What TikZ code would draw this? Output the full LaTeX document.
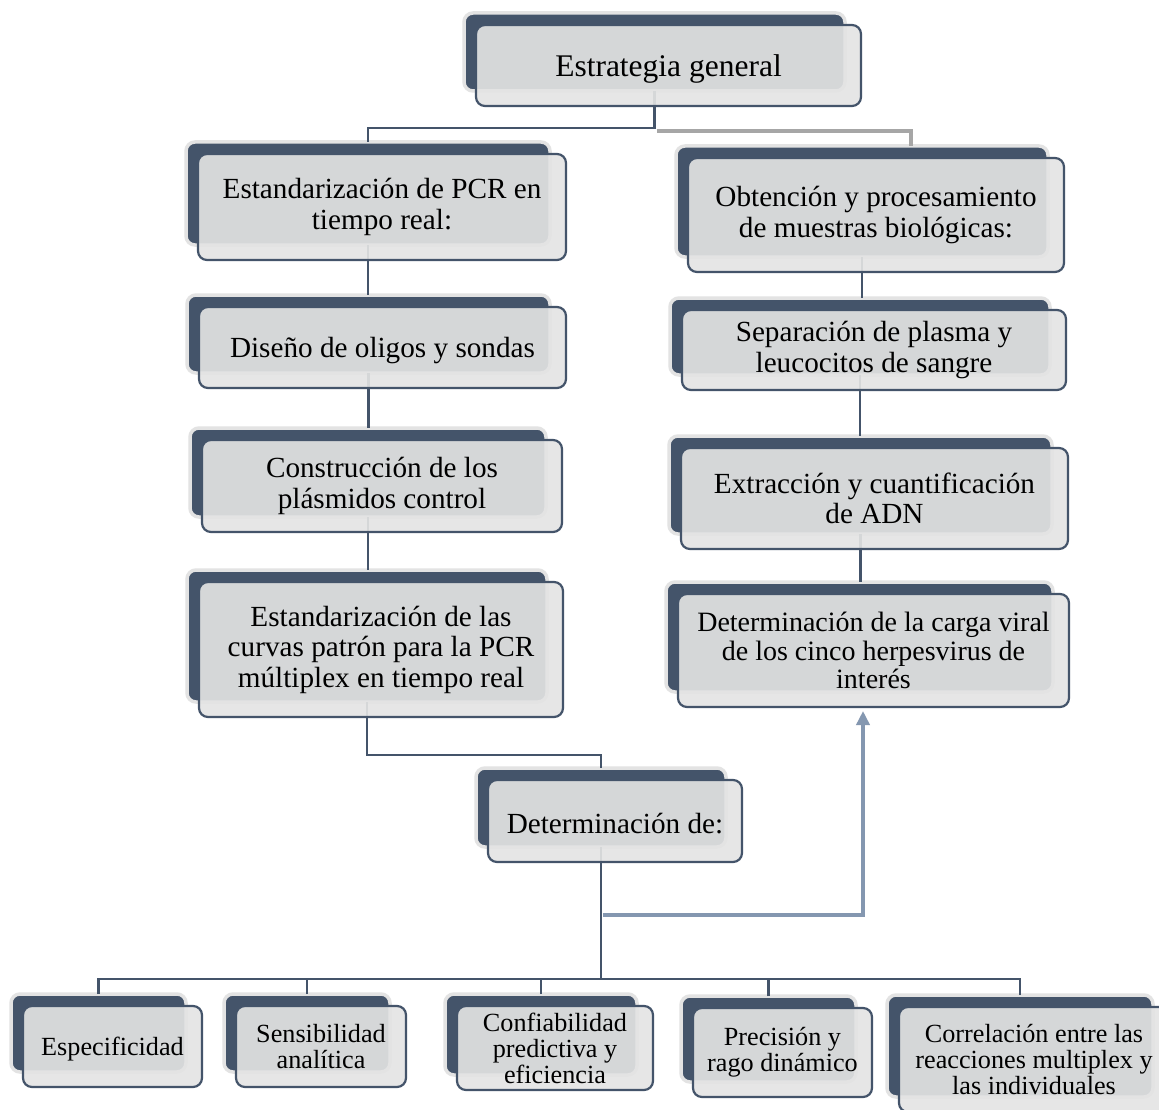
\documentclass[tikz,border=0pt]{standalone}
\usepackage{fontspec}
\setmainfont{Liberation Serif}
\usetikzlibrary{calc,arrows.meta}
\pgfdeclarelayer{bg}\pgfdeclarelayer{conn}
\pgfsetlayers{bg,conn,main}
\definecolor{navy}{HTML}{44546A}
\definecolor{halo}{HTML}{E3E3E3}
\definecolor{frontfill}{HTML}{E4E4E4}
\definecolor{gline}{HTML}{A6A6A6}
\definecolor{bline}{HTML}{8497B0}
\newcommand\fsTop{\fontsize{31.5}{33}\selectfont}
\newcommand\fsMain{\fontsize{29.2}{30.5}\selectfont}
\newcommand\fsMid{\fontsize{28}{28.5}\selectfont}
\newcommand\fsLow{\fontsize{26.2}{26}\selectfont}
\tikzset{
  frontbox/.style={draw=navy, line width=2.2pt, fill=frontfill, fill opacity=0.91, text opacity=1,
    rounded corners=9pt, align=center, inner sep=0pt, outer sep=0pt, text=black,
    execute at begin node={\rule{0pt}{0.9em}}},
  backbox/.style={draw=halo, line width=3.5pt, fill=navy, rounded corners=9pt, inner sep=0pt, outer sep=0pt},
  conn/.style={draw=navy, line width=2.2pt},
  gconn/.style={draw=gline, line width=3.2pt},
  bconn/.style={draw=bline, line width=3.5pt, -{Triangle[length=14pt,width=13pt]}}
}
\newcommand\dbox[7]{%
  \node[frontbox, minimum width=#4pt, minimum height=#5pt, font=#6] (#1) at (#2,#3) {#7};
  \begin{pgfonlayer}{bg}
    \node[backbox, minimum width=#4pt-4pt, minimum height=#5pt-3pt, anchor=north west] (#1-b) at ([xshift=-12pt,yshift=12pt]#1.north west) {};
  \end{pgfonlayer}}
\begin{document}
\begin{tikzpicture}[x=1pt,y=-1pt]
\begin{pgfonlayer}{bg}
\fill[white] (0,0) rectangle (1159,1110);
\end{pgfonlayer}
\useasboundingbox (0,0) rectangle (1159,1110);

\dbox{gen}{668.5}{65.5}{385}{81}{\fsTop}{Estrategia general}
\dbox{pcr}{382}{207}{368}{106}{\fsMain}{Estandarización de PCR en\\tiempo real:}
\dbox{obt}{876}{215}{376}{114}{\fsMain}{Obtención y procesamiento\\de muestras biológicas:}
\dbox{dis}{382.5}{347.5}{367}{81}{\fsMain}{Diseño de oligos y sondas}
\dbox{sep}{874}{350}{384}{80}{\fsMain}{Separación de plasma y\\leucocitos de sangre}
\dbox{con}{382}{486}{360}{92}{\fsMain}{Construcción de los\\plásmidos control}
\dbox{ext}{874.5}{498.5}{387}{101}{\fsMain}{Extracción y cuantificación\\de ADN}
\dbox{cur}{381}{649.5}{364}{135}{\fsMain}{Estandarización de las\\curvas patrón para la PCR\\múltiplex en tiempo real}
\dbox{car}{873.5}{650.5}{391}{113}{\fsMid}{Determinación de la carga viral\\de los cinco herpesvirus de\\interés}
\dbox{det}{615}{821}{254}{82}{\fsMain}{Determinación de:}
\dbox{esp}{112.5}{1046.5}{179}{81}{\fsLow}{Especificidad}
\dbox{sen}{321}{1046.5}{170}{81}{\fsLow}{Sensibilidad\\analítica}
\dbox{conf}{555}{1048}{196}{84}{\fsLow}{Confiabilidad\\predictiva y\\eficiencia}
\dbox{pre}{782.5}{1052.5}{179}{89}{\fsLow}{Precisión y\\rago dinámico}
\dbox{corr}{1034}{1059.5}{270}{105}{\fsLow}{Correlación entre las\\reacciones multiplex y\\las individuales}

\begin{pgfonlayer}{conn}
\coordinate (j1) at (654.5,128);
\coordinate (j2) at (657,131);
\coordinate (j3) at (911,131);
\coordinate (j6) at (368,755);
\coordinate (bus) at (98,979);
\coordinate (j4) at (603,915);
\coordinate (j5) at (863,915);
\coordinate (tip) at ([yshift=-4pt]car.south);

\draw[conn] (gen-b.south) |- (pcr-b.north |- j1) -- (pcr-b.north);
\draw[gconn] (j2) -- (j3) -- (j3 |- obt-b.north);

\draw[conn] (pcr-b.south) -- (pcr-b.south |- dis-b.north);
\draw[conn] (dis-b.south) -- (dis-b.south |- con-b.north);
\draw[conn] (con-b.south) -- (con-b.south |- cur-b.north);
\draw[conn] (cur-b.south) |- (det-b.north |- j6) -- (det-b.north);

\draw[conn] (obt-b.south) -- (obt-b.south |- sep-b.north);
\draw[conn] (sep-b.south) -- (sep-b.south |- ext-b.north);
\draw[conn] (ext-b.south) -- (ext-b.south |- car-b.north);

\draw[conn] (det-b.south) -- (det-b.south |- bus);
\draw[conn] (esp-b.north) |- (corr-b.north |- bus) -- (corr-b.north);
\draw[conn] (sen-b.north) -- (sen-b.north |- bus);
\draw[conn] (conf-b.north) -- (conf-b.north |- bus);
\draw[conn] (pre-b.north) -- (pre-b.north |- bus);

\draw[bconn] (j4) -- (j5) -- (j5 |- tip);
\end{pgfonlayer}
\end{tikzpicture}
\end{document}
